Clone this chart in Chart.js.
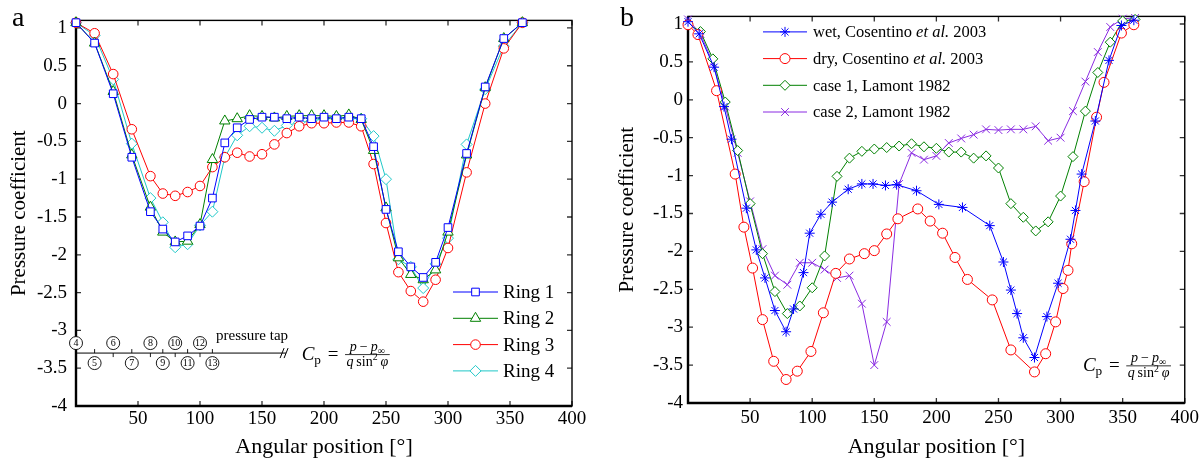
<!DOCTYPE html>
<html>
<head>
<meta charset="utf-8">
<script src="https://cdn.jsdelivr.net/npm/chart.js@4.4.1/dist/chart.umd.min.js"></script>
<style>
  html, body { margin: 0; padding: 0; background: #fff; }
  #wrap { position: relative; width: 1203px; height: 462px; }
  .panel { position: absolute; top: 0; height: 462px; }
  #pa { left: 0; width: 600px; }
  #pb { left: 600px; width: 603px; }
</style>
</head>
<body>
<div id="wrap">
  <div class="panel" id="pa"><canvas id="chartA" width="600" height="462"></canvas></div>
  <div class="panel" id="pb"><canvas id="chartB" width="603" height="462"></canvas></div>
</div>
<script>
// ---- panel a : measured rings ----
const ringAngles = [0, 15, 30, 45, 60, 70, 80, 90, 100, 110, 120, 130, 140, 150, 160, 170, 180,
                    190, 200, 210, 220, 230, 240, 250, 260, 270, 280, 290, 300, 315, 330, 345, 360];
const ring1Cp = [1.07, 0.8, 0.13, -0.71, -1.43, -1.66, -1.83, -1.75, -1.62, -1.25, -0.52, -0.32, -0.21, -0.18, -0.18, -0.2, -0.18,
                 -0.2, -0.18, -0.2, -0.18, -0.2, -0.57, -1.4, -1.96, -2.16, -2.3, -2.1, -1.64, -0.66, 0.22, 0.86, 1.07];
const ring2Cp = [1.07, 0.8, 0.16, -0.68, -1.37, -1.7, -1.83, -1.82, -1.6, -0.74, -0.23, -0.2, -0.16, -0.17, -0.19, -0.17, -0.16,
                 -0.16, -0.16, -0.17, -0.15, -0.21, -0.62, -1.38, -2.04, -2.26, -2.33, -2.2, -1.7, -0.68, 0.21, 0.86, 1.07];
const ring3Cp = [1.07, 0.93, 0.39, -0.34, -0.96, -1.19, -1.22, -1.17, -1.09, -0.84, -0.71, -0.65, -0.7, -0.67, -0.54, -0.39, -0.3,
                 -0.26, -0.26, -0.25, -0.25, -0.3, -0.8, -1.58, -2.23, -2.48, -2.62, -2.33, -1.91, -0.91, 0.0, 0.73, 1.07];
const ring4Cp = [1.07, 0.9, 0.32, -0.53, -1.25, -1.57, -1.9, -1.86, -1.61, -1.43, -0.71, -0.42, -0.3, -0.32, -0.36, -0.29, -0.25,
                 -0.23, -0.2, -0.18, -0.2, -0.2, -0.43, -1.0, -2.06, -2.16, -2.44, -2.12, -1.78, -0.54, 0.19, 0.76, 1.07];

// pressure tap numbering along the circumference
const tapAngles = [0, 15, 30, 45, 60, 70, 80, 90, 100, 110];
const tapNumbers = [4, 5, 6, 7, 8, 9, 10, 11, 12, 13];

// ---- panel b : literature data ----
const wetAngles = [0, 9, 21, 29, 35, 47, 55, 62, 70, 79, 85, 93, 98, 107, 116, 129, 140, 149, 159,
                   168, 184, 202, 221, 243, 254, 260, 265, 270, 279, 289, 298, 308, 312, 317, 328, 339, 349, 359];
const wetCp = [1.03, 0.87, 0.43, -0.09, -0.52, -1.43, -1.98, -2.35, -2.78, -3.06, -2.76, -2.28, -1.76, -1.51, -1.35, -1.18, -1.11, -1.11, -1.13,
               -1.12, -1.2, -1.38, -1.42, -1.66, -2.14, -2.51, -2.82, -3.14, -3.4, -2.86, -2.42, -1.84, -1.46, -0.98, -0.28, 0.52, 0.98, 1.05];
const dryAngles = [0, 8, 23, 38, 45, 52, 60, 69, 79, 88, 99, 109, 119, 130, 142, 150, 160, 169,
                   185, 195, 205, 215, 225, 245, 260, 279, 288, 296, 302, 306, 309, 319, 329, 335, 349, 359];
const dryCp = [0.99, 0.86, 0.12, -0.98, -1.68, -2.22, -2.9, -3.45, -3.69, -3.58, -3.32, -2.81, -2.29, -2.1, -2.03, -1.99, -1.77, -1.57,
               -1.44, -1.6, -1.76, -2.08, -2.37, -2.64, -3.3, -3.59, -3.35, -2.93, -2.49, -2.25, -1.9, -1.08, -0.23, 0.23, 0.88, 0.99];
const lamontAngles = [0, 10, 20, 30, 40, 50, 60, 70, 80, 90, 100, 110, 120, 130, 140, 150, 160, 170, 180,
                      190, 200, 210, 220, 230, 240, 250, 260, 270, 280, 290, 300, 310, 320, 330, 340, 350, 360];
const case1Cp = [1.0, 0.9, 0.54, -0.03, -0.67, -1.37, -2.03, -2.53, -2.82, -2.72, -2.48, -2.06, -1.01, -0.77, -0.68, -0.65, -0.63, -0.61, -0.58,
                 -0.62, -0.64, -0.69, -0.69, -0.77, -0.74, -0.9, -1.37, -1.55, -1.73, -1.61, -1.27, -0.75, -0.15, 0.36, 0.76, 1.04, 1.06];
const case2Cp = [1.06, 0.87, 0.49, -0.09, -0.7, -1.34, -1.97, -2.32, -2.44, -2.15, -2.15, -2.24, -2.35, -2.32, -2.69, -3.5, -2.93, -1.11, -0.7,
                 -0.79, -0.74, -0.57, -0.51, -0.46, -0.39, -0.4, -0.39, -0.39, -0.35, -0.54, -0.5, -0.15, 0.24, 0.63, 0.96, 1.07, 1.08];

const SERIF = '"Liberation Serif", "DejaVu Serif", serif';
Chart.defaults.font.family = SERIF;
Chart.defaults.color = '#000';

function series(label, angles, values, color, style, radius) {
    return {
        label,
        data: angles.map((a, i) => ({ x: a, y: values[i] })),
        borderColor: color,
        backgroundColor: '#fff',
        borderWidth: 1,
        pointStyle: style,
        pointRadius: radius,
        pointBorderColor: color,
        pointBackgroundColor: '#fff',
        pointBorderWidth: 1,
        tension: 0,
        clip: false
    };
}

// inward ticks on all four sides plus the box
const frame = {
    id: 'frame',
    beforeDatasetsDraw(chart) {
        const { ctx, chartArea: a, scales: { x, y } } = chart;
        ctx.save();
        ctx.strokeStyle = '#333';
        ctx.lineWidth = 1.3;
        ctx.beginPath();
        x.ticks.forEach(t => {
            const px = x.getPixelForValue(t.value);
            ctx.moveTo(px, a.bottom); ctx.lineTo(px, a.bottom - 5);
            ctx.moveTo(px, a.top); ctx.lineTo(px, a.top + 5);
        });
        y.ticks.forEach(t => {
            const py = y.getPixelForValue(t.value);
            ctx.moveTo(a.left, py); ctx.lineTo(a.left + 5, py);
            ctx.moveTo(a.right, py); ctx.lineTo(a.right - 5, py);
        });
        ctx.stroke();
        ctx.strokeStyle = '#000';
        ctx.lineWidth = 1.4;
        ctx.strokeRect(a.left, a.top, a.right - a.left, a.bottom - a.top);
        ctx.lineWidth = 2.4;
        ctx.beginPath();
        ctx.moveTo(a.left, a.top); ctx.lineTo(a.left, a.bottom); ctx.lineTo(a.right, a.bottom);
        ctx.stroke();
        ctx.restore();
    }
};

function drawMixed(ctx, text, x, y, size) {
    const parts = text.split('et al.');
    let cx = x;
    parts.forEach((p, k) => {
        ctx.font = `${size}px ${SERIF}`;
        ctx.fillText(p, cx, y);
        cx += ctx.measureText(p).width;
        if (k < parts.length - 1) {
            ctx.font = `italic ${size}px ${SERIF}`;
            ctx.fillText('et al.', cx, y);
            cx += ctx.measureText('et al.').width;
        }
    });
}

// legend drawn inside the plot, no box
const innerLegend = {
    id: 'innerLegend',
    afterDraw(chart, args, o) {
        const { ctx, chartArea: a } = chart;
        const x0 = o.fromLeft != null ? a.left + o.fromLeft : a.right - o.fromRight;
        const y0 = o.fromTop != null ? a.top + o.fromTop : a.bottom - o.fromBottom;
        ctx.save();
        ctx.textBaseline = 'middle';
        ctx.textAlign = 'left';
        chart.data.datasets.forEach((ds, i) => {
            const y = y0 + i * o.rowGap;
            ctx.strokeStyle = ds.borderColor;
            ctx.lineWidth = 1;
            ctx.beginPath();
            ctx.moveTo(x0, y); ctx.lineTo(x0 + o.lineLen, y);
            ctx.stroke();
            ctx.fillStyle = '#fff';
            Chart.helpers.drawPoint(ctx, { pointStyle: ds.pointStyle, radius: ds.pointRadius, rotation: 0, borderWidth: 1 },
                x0 + o.lineLen / 2, y);
            ctx.fillStyle = '#000';
            drawMixed(ctx, ds.label, x0 + o.lineLen + o.textGap, y + 1, o.size);
        });
        ctx.restore();
    }
};

function runsWidth(ctx, runs) {
    let w = 0;
    runs.forEach(r => {
        if (r.gap) { w += r.gap; return; }
        ctx.font = `${r.it ? 'italic ' : ''}${r.size}px ${SERIF}`;
        w += ctx.measureText(r.t).width;
    });
    return w;
}

function drawRuns(ctx, runs, x, y) {
    let cx = x;
    runs.forEach(r => {
        if (r.gap) { cx += r.gap; return; }
        ctx.font = `${r.it ? 'italic ' : ''}${r.size}px ${SERIF}`;
        ctx.fillText(r.t, cx, y + (r.dy || 0));
        cx += ctx.measureText(r.t).width;
    });
    return cx - x;
}

// C_p = (p - p_inf) / (q sin^2 phi)
function drawCp(ctx, x, axisY, size) {
    ctx.save();
    ctx.fillStyle = '#000';
    ctx.textBaseline = 'alphabetic';
    ctx.textAlign = 'left';
    const base = axisY + size * 0.27;
    let cx = x;
    cx += drawRuns(ctx, [
        { t: 'C', it: true, size },
        { t: 'p', size: size * 0.7, dy: size * 0.2 },
        { gap: size * 0.35 },
        { t: '=', size },
        { gap: size * 0.35 }
    ], cx, base);
    const fs = size * 0.74;
    const num = [
        { t: 'p', it: true, size: fs }, { gap: 3 }, { t: '\u2212', size: fs }, { gap: 3 },
        { t: 'p', it: true, size: fs }, { t: '\u221e', size: fs * 0.72, dy: fs * 0.22 }
    ];
    const den = [
        { t: 'q', it: true, size: fs }, { gap: fs * 0.2 }, { t: 'sin', size: fs },
        { t: '2', size: fs * 0.7, dy: -fs * 0.4 }, { gap: fs * 0.2 }, { t: '\u03c6', it: true, size: fs }
    ];
    const wn = runsWidth(ctx, num), wd = runsWidth(ctx, den);
    const w = Math.max(wn, wd) + 3;
    drawRuns(ctx, num, cx + (w - wn) / 2, axisY - 4);
    drawRuns(ctx, den, cx + (w - wd) / 2, axisY + fs * 0.82);
    ctx.strokeStyle = '#000';
    ctx.lineWidth = 0.8;
    ctx.beginPath();
    ctx.moveTo(cx, axisY); ctx.lineTo(cx + w, axisY);
    ctx.stroke();
    ctx.restore();
}

const annotations = {
    id: 'annotations',
    afterDraw(chart, args, o) {
        const { ctx, scales: { x, y } } = chart;
        ctx.save();
        // panel letter
        ctx.fillStyle = '#000';
        ctx.textBaseline = 'alphabetic';
        ctx.textAlign = 'left';
        ctx.font = `28px ${SERIF}`;
        ctx.fillText(o.letter, o.letterX, 26);
        drawCp(ctx, x.getPixelForValue(o.cpX), y.getPixelForValue(o.cpY), 19);

        if (o.taps) {
            const ly = y.getPixelForValue(-3.3);
            const lx0 = x.getPixelForValue(0);
            const lx1 = x.getPixelForValue(167);
            ctx.strokeStyle = '#000';
            ctx.lineWidth = 1;
            ctx.beginPath();
            ctx.moveTo(lx0, ly); ctx.lineTo(lx1 + 3, ly);
            // break mark
            ctx.moveTo(lx1 - 3, ly + 5); ctx.lineTo(lx1 + 1, ly - 5);
            ctx.moveTo(lx1 + 1, ly + 5); ctx.lineTo(lx1 + 5, ly - 5);
            ctx.stroke();
            ctx.font = `10px ${SERIF}`;
            ctx.textAlign = 'center';
            ctx.textBaseline = 'middle';
            tapAngles.forEach((ang, i) => {
                const px = x.getPixelForValue(ang);
                const up = i % 2 === 0;
                const cy = up ? ly - 10 : ly + 10;
                ctx.lineWidth = 0.9;
                ctx.beginPath();
                if (i > 0) {
                    ctx.moveTo(px, ly); ctx.lineTo(px, up ? ly + 4 : ly - 4);
                }
                ctx.stroke();
                ctx.beginPath();
                ctx.arc(px, cy, 6.5, 0, Math.PI * 2);
                ctx.fillStyle = '#fff';
                ctx.fill();
                ctx.stroke();
                ctx.fillStyle = '#000';
                ctx.fillText(String(tapNumbers[i]), px, cy + 0.5);
            });
            ctx.font = `15px ${SERIF}`;
            ctx.textAlign = 'right';
            ctx.textBaseline = 'alphabetic';
            ctx.fillText('pressure tap', lx1 + 5, ly - 13);
        }
        ctx.restore();
    }
};

function makeOptions(cfg) {
    return {
        responsive: false,
        animation: false,
        events: [],
        layout: { padding: cfg.padding },
        scales: {
            x: {
                type: 'linear', min: 0, max: 400,
                border: { display: false },
                grid: { display: false, drawTicks: false },
                ticks: {
                    stepSize: 50, autoSkip: false, maxRotation: 0, padding: cfg.xTickPad,
                    font: { size: 19 }, color: '#000',
                    callback: v => (v === 0 ? '' : String(v))
                },
                title: {
                    display: true, text: 'Angular position [\u00b0]',
                    font: { size: 22 }, color: '#000', padding: { top: 0, bottom: 2 }
                },
                afterFit: s => { s.height = cfg.xHeight; }
            },
            y: {
                type: 'linear', min: -4, max: 1.1,
                border: { display: false },
                grid: { display: false, drawTicks: false },
                ticks: {
                    stepSize: 0.5, includeBounds: false, autoSkip: false, padding: cfg.yTickPad,
                    font: { size: 19 }, color: '#000',
                    callback: v => String(Math.round(v * 10) / 10)
                },
                title: {
                    display: true, text: 'Pressure coefficient',
                    font: { size: 21 }, color: '#000', padding: { top: cfg.yTitlePad, bottom: 0 }
                },
                afterFit: s => { s.width = cfg.yWidth; }
            }
        },
        plugins: {
            legend: { display: false },
            tooltip: { enabled: false },
            innerLegend: cfg.legend,
            annotations: cfg.notes
        }
    };
}

new Chart(document.getElementById('chartA'), {
    type: 'line',
    data: {
        datasets: [
            series('Ring 1', ringAngles, ring1Cp, '#0000ff', 'rect', 5.4),
            series('Ring 2', ringAngles, ring2Cp, '#008000', 'triangle', 6),
            series('Ring 3', ringAngles, ring3Cp, '#ff0000', 'circle', 4.8),
            series('Ring 4', ringAngles, ring4Cp, '#20c8c8', 'rectRot', 5.5)
        ]
    },
    options: makeOptions({
        padding: { left: 0, top: 15, right: 28, bottom: 0 },
        xHeight: 56, yWidth: 76, xTickPad: 2, yTickPad: 9, yTitlePad: 7,
        legend: { fromRight: 119, fromBottom: 114, rowGap: 26.3, lineLen: 45, textGap: 5, size: 19 },
        notes: { letter: 'a', letterX: 12, cpX: 182, cpY: -3.32, taps: true }
    }),
    plugins: [frame, innerLegend, annotations]
});

new Chart(document.getElementById('chartB'), {
    type: 'line',
    data: {
        datasets: [
            series('wet, Cosentino et al. 2003', wetAngles, wetCp, '#0000ff', 'star', 5),
            series('dry, Cosentino et al. 2003', dryAngles, dryCp, '#ff0000', 'circle', 5),
            series('case 1, Lamont 1982', lamontAngles, case1Cp, '#008000', 'rectRot', 5),
            series('case 2, Lamont 1982', lamontAngles, case2Cp, '#8a2be2', 'crossRot', 5.5)
        ]
    },
    options: makeOptions({
        padding: { left: 0, top: 13, right: 18, bottom: 0 },
        xHeight: 59, yWidth: 88, xTickPad: 4, yTickPad: 5, yTitlePad: 15,
        legend: { fromLeft: 75, fromTop: 15.5, rowGap: 26.7, lineLen: 44, textGap: 6, size: 16.5 },
        notes: { letter: 'b', letterX: 20, cpX: 318, cpY: -3.51, taps: false }
    }),
    plugins: [frame, innerLegend, annotations]
});
</script>
</body>
</html>
